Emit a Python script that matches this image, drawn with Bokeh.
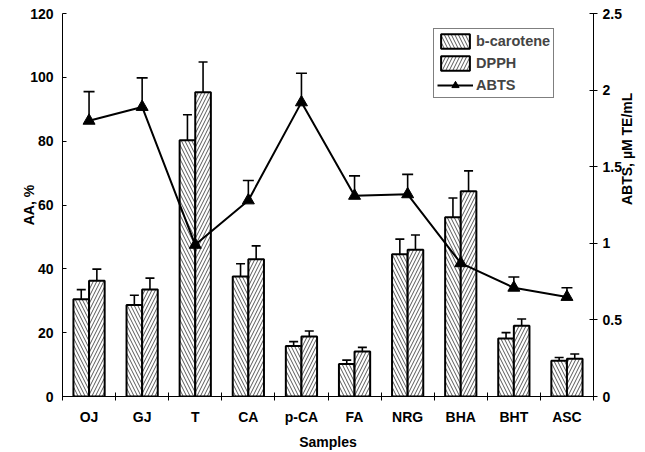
import numpy as np
from bokeh.plotting import figure
from bokeh.models import (ColumnDataSource, Range1d, LinearAxis, FixedTicker,
                          Whisker, TeeHead, Legend, LegendItem)
from bokeh.embed import file_html
from bokeh.resources import INLINE

samples = ["OJ", "GJ", "T", "CA", "p-CA", "FA", "NRG", "BHA", "BHT", "ASC"]
bcarotene = [30.5, 28.7, 80.3, 37.6, 15.8, 10.2, 44.6, 56.2, 18.2, 11.2]
bcarotene_err = [3.0, 3.0, 8.0, 4.0, 1.4, 1.2, 4.7, 6.0, 1.8, 1.0]
dpph = [36.3, 33.5, 95.3, 43.0, 18.8, 14.1, 46.0, 64.3, 22.2, 11.8]
dpph_err = [3.6, 3.6, 9.5, 4.2, 1.7, 1.3, 4.6, 6.4, 2.1, 1.5]
abts = [1.80, 1.89, 0.99, 1.28, 1.92, 1.31, 1.32, 0.87, 0.71, 0.65]
abts_err = [0.19, 0.19, 0.11, 0.13, 0.19, 0.13, 0.13, 0.05, 0.07, 0.06]

FONT = "Liberation Sans"
FS = "14px"
centers = np.arange(len(samples)) + 0.5
bw = 0.294

src = ColumnDataSource(dict(
    xc=centers, xb=centers - bw / 2, xd=centers + bw / 2,
    bcar=bcarotene, bcar_up=np.array(bcarotene) + np.array(bcarotene_err),
    dpph=dpph, dpph_up=np.array(dpph) + np.array(dpph_err),
    abts=abts, abts_up=np.array(abts) + np.array(abts_err),
))

p = figure(width=645, height=452, output_backend="svg", toolbar_location=None,
           x_range=Range1d(0, len(samples)), y_range=Range1d(0, 120),
           min_border_left=62, min_border_right=51, min_border_top=13,
           min_border_bottom=55)
p.extra_y_ranges = {"abts": Range1d(0, 2.5)}
p.outline_line_color = None
p.xgrid.visible = False
p.ygrid.visible = False
p.background_fill_color = "white"
p.border_fill_color = "white"

rb = p.vbar(x="xb", top="bcar", width=bw, source=src, fill_color="white",
            line_color="black", line_width=2, hatch_pattern="left_diagonal_line",
            hatch_color="#444444", hatch_scale=7, hatch_weight=0.9)
rd = p.vbar(x="xd", top="dpph", width=bw, source=src, fill_color="white",
            line_color="black", line_width=2, hatch_pattern="right_diagonal_line",
            hatch_color="#444444", hatch_scale=7, hatch_weight=0.9)

for base, lo, up in [("xb", "bcar", "bcar_up"), ("xd", "dpph", "dpph_up")]:
    w = Whisker(base=base, lower=lo, upper=up, source=src, line_color="black",
                line_width=1.6, lower_head=None,
                upper_head=TeeHead(size=9, line_color="black", line_width=1.6))
    p.add_layout(w)

wa = Whisker(base="xc", lower="abts", upper="abts_up", source=src,
             y_range_name="abts", line_color="black", line_width=1.6,
             lower_head=None,
             upper_head=TeeHead(size=11, line_color="black", line_width=1.6))
p.add_layout(wa)

rl = p.line(x="xc", y="abts", source=src, y_range_name="abts",
            line_color="black", line_width=2)
rs = p.scatter(x="xc", y="abts", source=src, y_range_name="abts",
               marker="triangle", size=12, fill_color="black", line_color="black")

# x axis
xa = p.xaxis[0]
xa.ticker = FixedTicker(ticks=list(centers), minor_ticks=list(range(len(samples) + 1)))
xa.major_label_overrides = {float(c): s for c, s in zip(centers, samples)}
xa.major_tick_in = 0
xa.major_tick_out = 0
xa.minor_tick_in = 4
xa.minor_tick_out = 4
xa.major_label_standoff = 8
xa.axis_label = "Samples"
xa.axis_label_standoff = 6

# left axis
ya = p.yaxis[0]
ya.ticker = FixedTicker(ticks=[0, 20, 40, 60, 80, 100, 120])
ya.major_tick_in = 4
ya.major_tick_out = 0
ya.major_label_standoff = 9
ya.axis_label = "AA, %"
ya.axis_label_standoff = -10

# right axis
ra = LinearAxis(y_range_name="abts", ticker=FixedTicker(ticks=[0, 0.5, 1, 1.5, 2, 2.5]))
ra.major_tick_in = 4
ra.major_tick_out = 4
ra.major_label_standoff = 5
ra.axis_label = "ABTS, \u00b5M TE/mL"
ra.axis_label_standoff = 2
if "axis_label_orientation" in ra.properties():
    ra.axis_label_orientation = np.pi / 2
p.add_layout(ra, "right")

for ax in [xa, ya, ra]:
    ax.axis_line_color = "black"
    ax.axis_line_width = 1
    ax.major_tick_line_color = "black"
    ax.minor_tick_line_color = "black" if ax is xa else None
    ax.major_label_text_font = FONT
    ax.major_label_text_font_style = "bold"
    ax.major_label_text_font_size = FS
    ax.major_label_text_color = "black"
    ax.axis_label_text_font = FONT
    ax.axis_label_text_font_style = "bold"
    ax.axis_label_text_font_size = FS
    ax.axis_label_text_color = "black"

legend = Legend(items=[
    LegendItem(label="b-carotene", renderers=[rb]),
    LegendItem(label="DPPH", renderers=[rd]),
    LegendItem(label="ABTS", renderers=[rl, rs]),
], location=(371, 298))
legend.label_text_font = FONT
legend.label_text_font_style = "bold"
legend.label_text_font_size = "14.5px"
legend.glyph_width = 36
legend.glyph_height = 18
legend.label_height = 18
legend.spacing = 4
legend.padding = 3
legend.margin = 0
legend.label_standoff = 3
legend.border_line_color = "black"
legend.border_line_width = 1
legend.background_fill_alpha = 1
p.add_layout(legend)

open("out.html", "w").write(file_html(p, INLINE))
